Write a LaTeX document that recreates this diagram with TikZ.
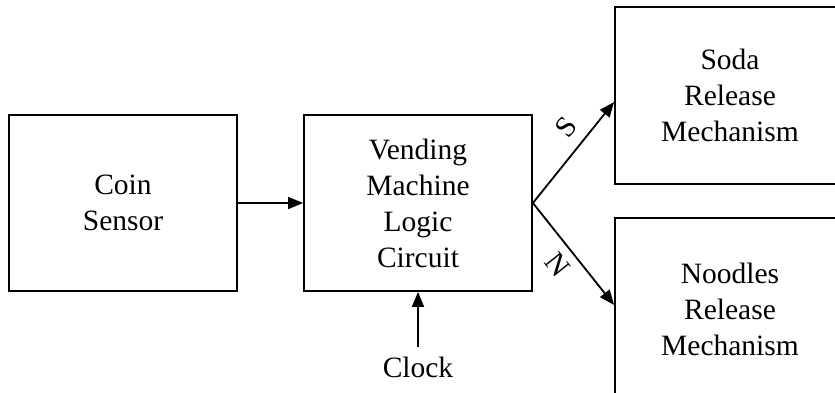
\documentclass[tikz,border=0pt]{standalone}
\usepackage{fontspec}
\setmainfont{Liberation Serif}
\usetikzlibrary{arrows.meta}
\begin{document}
\begin{tikzpicture}[x=1pt,y=-1pt,
  box/.style={draw, line width=1.8pt, align=center, font=\fontsize{29.5}{36}\selectfont, inner sep=0pt},
  arr/.style={line width=1.8pt, -{Triangle[length=15pt,width=12pt]}},
  lbl/.style={font=\fontsize{29.5}{36}\selectfont}]
\useasboundingbox (0,0) rectangle (835,392);
\clip (0,0) rectangle (835,392);
\node[box, minimum width=228pt, minimum height=176pt] (coin) at (123,203) {Coin\\Sensor};
\node[box, minimum width=228pt, minimum height=176pt] (logic) at (418,203) {Vending\\Machine\\Logic\\Circuit};
\node[box, minimum width=230pt, minimum height=177pt] (soda) at (730,95.5) {Soda\\Release\\Mechanism};
\node[box, minimum width=230pt, minimum height=182pt] (noodles) at (730,309) {Noodles\\Release\\Mechanism};
\node[lbl, inner sep=0pt, anchor=base] (clock) at (418,377) {Clock};
\draw[arr] (coin.east) -- (logic.west);
\draw[arr] ([yshift=9pt]clock.north) -- (logic.south);
\draw[arr] (logic.east) -- ([yshift=-6.5pt]soda.west)
  node[lbl, pos=0.62, sloped, anchor=south, inner sep=11pt] (s) {S};
\draw[arr] (logic.east) -- ([yshift=4pt]noodles.west)
  node[lbl, pos=0.49, sloped, anchor=north, inner sep=9pt] (n) {N};
\end{tikzpicture}
\end{document}
